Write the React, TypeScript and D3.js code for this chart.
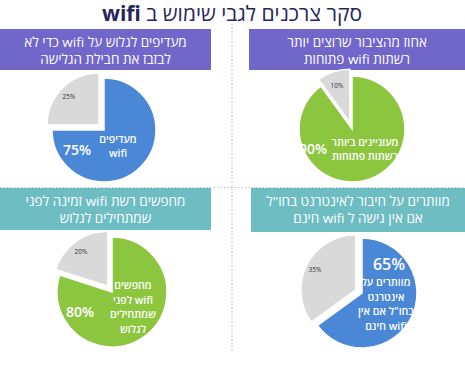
import React from "react";
import * as d3 from "d3";

const W = 465;
const H = 377;

const titleMain = "סקר צרכנים לגבי שימוש ב ";
const titleWifi = "wifi";

const panelHeaders: string[][] = [
  ["מעדיפים לגלוש על wifi כדי לא", "לבזבז את חבילת הגלישה"],
  ["אחוז מהציבור שרוצים יותר", "רשתות wifi פתוחות"],
  ["מחפשים רשת wifi זמינה לפני", "שמתחילים לגלוש"],
  ["מוותרים על חיבור לאינטרנט בחו\"ל", "אם אין גישה ל wifi חינם"],
];

const mainValues = [75, 90, 80, 65];
const otherValues = [25, 10, 20, 35];

const mainLabels: string[][] = [
  ["מעדיפים", "wifi"],
  ["מעוניינים ביותר", "רשתות פתוחות"],
  ["מחפשים", "wifi לפני", "שמתחילים", "לגלוש"],
  ["מוותרים על", "אינטרנט", "בחו\"ל אם אין", "wifi חינם"],
];

// layout (positions/styles)
const headerColors = ["#7166c9", "#7166c9", "#6dbdc3", "#6dbdc3"];
const mainColors = ["#4a87d6", "#8cc63f", "#8cc63f", "#4a87d6"];
const grayColor = "#d9d9d9";
const headerBoxes = [
  { x: 0, y: 29, w: 211, h: 41 },
  { x: 249, y: 29, w: 216, h: 41 },
  { x: 0, y: 188, w: 211, h: 42 },
  { x: 251, y: 188, w: 214, h: 44 },
];
const pieGeo = [
  { cx: 104, cy: 130, r: 52 },
  { cx: 352, cy: 129, r: 53 },
  { cx: 112, cy: 292, r: 55 },
  { cx: 362, cy: 293, r: 55 },
];
const mainLabelPos = [
  { x: 118, y: 143, dy: 14, pct: { x: 77, y: 155, size: 14 } },
  { x: 365, y: 146, dy: 14, pct: { x: 313, y: 154, size: 14 } },
  { x: 133, y: 289, dy: 14.5, pct: { x: 80, y: 317, size: 14 } },
  { x: 386, y: 286, dy: 14.5, pct: { x: 389, y: 270, size: 16 } },
];
const otherLabelPos = [
  { x: 69, y: 99 },
  { x: 337, y: 88 },
  { x: 81, y: 254 },
  { x: 315, y: 272 },
];

const FONT = "'Open Sans', 'Liberation Sans', 'DejaVu Sans', sans-serif";

function Panel({ i }: { i: number }) {
  const g = pieGeo[i];
  const data = [mainValues[i], otherValues[i]];
  const pie = d3.pie<number>().sort(null).startAngle(0).endAngle(2 * Math.PI);
  const arcs = pie(data);
  const arc = d3.arc<d3.PieArcDatum<number>>().innerRadius(0).outerRadius(g.r);
  const hb = headerBoxes[i];
  const lp = mainLabelPos[i];
  const op = otherLabelPos[i];
  const explode = 7;
  return (
    <g>
      <rect x={hb.x} y={hb.y} width={hb.w} height={hb.h} fill={headerColors[i]} />
      {panelHeaders[i].map((t, k) => (
        <text
          key={k}
          x={hb.x + hb.w / 2}
          y={hb.y + 18 + k * 17}
          textAnchor="middle"
          direction="rtl"
          fill="#ffffff"
          fontSize={13.5}
          fontFamily={FONT}
        >
          {t}
        </text>
      ))}
      <g transform={`translate(${g.cx},${g.cy})`}>
        {arcs.map((a, k) => {
          const mid = (a.startAngle + a.endAngle) / 2;
          const off = k === 1 ? explode : 0;
          const dx = Math.sin(mid) * off;
          const dy = -Math.cos(mid) * off;
          return (
            <path
              key={k}
              d={arc(a) || ""}
              transform={`translate(${dx},${dy})`}
              fill={k === 0 ? mainColors[i] : grayColor}
              stroke="#ffffff"
              strokeWidth={1.5}
            />
          );
        })}
      </g>
      {mainLabels[i].map((t, k) => (
        <text
          key={k}
          x={lp.x}
          y={lp.y + k * lp.dy}
          textAnchor="middle"
          direction="rtl"
          fill="#ffffff"
          fontSize={10.5}
          fontWeight={600}
          fontFamily={FONT}
        >
          {t}
        </text>
      ))}
      <text
        x={lp.pct.x}
        y={lp.pct.y}
        textAnchor="middle"
        fill="#ffffff"
        fontSize={lp.pct.size}
        fontWeight={600}
        fontFamily={FONT}
      >
        {mainValues[i]}%
      </text>
      <text
        x={op.x}
        y={op.y}
        textAnchor="middle"
        fill="#333333"
        fontSize={6.5}
        fontFamily={FONT}
      >
        {otherValues[i]}%
      </text>
    </g>
  );
}

export default function App() {
  return (
    <svg
      width={W}
      height={H}
      style={{ position: "absolute", left: 0, top: 0, background: "#ffffff" }}
    >
      <rect x={0} y={0} width={W} height={H} fill="#ffffff" />
      <text
        x={232}
        y={21}
        textAnchor="middle"
        direction="rtl"
        fill="#26265c"
        fontSize={21}
        fontFamily={FONT}
      >
        {titleMain}
        <tspan fontWeight="bold">{titleWifi}</tspan>
      </text>
      <line x1={232} y1={24} x2={232} y2={352} stroke="#bfbfbf" strokeWidth={1.2} strokeDasharray="1.5,2" />
      <line x1={0} y1={187.5} x2={W} y2={187.5} stroke="#bfbfbf" strokeWidth={1.2} strokeDasharray="1.5,2" />
      {[0, 1, 2, 3].map((i) => (
        <Panel key={i} i={i} />
      ))}
    </svg>
  );
}
